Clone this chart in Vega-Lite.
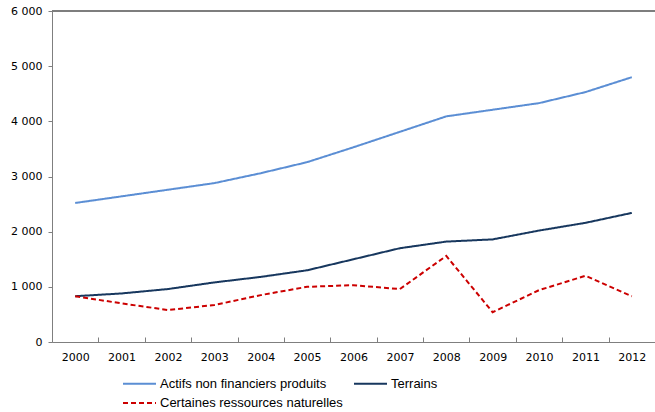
{
  "$schema": "https://vega.github.io/schema/vega-lite/v6.json",
  "autosize": "none",
  "width": 603,
  "height": 331,
  "padding": {"left": 52, "top": 11, "right": 0, "bottom": 70},
  "background": "white",
  "config": {
    "view": {"stroke": null},
    "font": "DejaVu Sans",
    "axis": {"labelFont": "DejaVu Sans", "labelFontSize": 11, "labelColor": "#000", "domainColor": "#7f7f7f", "tickColor": "#7f7f7f", "grid": false, "title": null}
  },
  "data": {
    "values": [
      {"year": "2000", "series": "Actifs non financiers produits", "value": 2520},
      {"year": "2001", "series": "Actifs non financiers produits", "value": 2640},
      {"year": "2002", "series": "Actifs non financiers produits", "value": 2760},
      {"year": "2003", "series": "Actifs non financiers produits", "value": 2880},
      {"year": "2004", "series": "Actifs non financiers produits", "value": 3060},
      {"year": "2005", "series": "Actifs non financiers produits", "value": 3260},
      {"year": "2006", "series": "Actifs non financiers produits", "value": 3530},
      {"year": "2007", "series": "Actifs non financiers produits", "value": 3810},
      {"year": "2008", "series": "Actifs non financiers produits", "value": 4090},
      {"year": "2009", "series": "Actifs non financiers produits", "value": 4210},
      {"year": "2010", "series": "Actifs non financiers produits", "value": 4330},
      {"year": "2011", "series": "Actifs non financiers produits", "value": 4530},
      {"year": "2012", "series": "Actifs non financiers produits", "value": 4800},
      {"year": "2000", "series": "Terrains", "value": 830},
      {"year": "2001", "series": "Terrains", "value": 880},
      {"year": "2002", "series": "Terrains", "value": 960},
      {"year": "2003", "series": "Terrains", "value": 1080},
      {"year": "2004", "series": "Terrains", "value": 1180},
      {"year": "2005", "series": "Terrains", "value": 1300},
      {"year": "2006", "series": "Terrains", "value": 1500},
      {"year": "2007", "series": "Terrains", "value": 1700},
      {"year": "2008", "series": "Terrains", "value": 1820},
      {"year": "2009", "series": "Terrains", "value": 1860},
      {"year": "2010", "series": "Terrains", "value": 2020},
      {"year": "2011", "series": "Terrains", "value": 2160},
      {"year": "2012", "series": "Terrains", "value": 2340},
      {"year": "2000", "series": "Certaines ressources naturelles", "value": 830},
      {"year": "2001", "series": "Certaines ressources naturelles", "value": 700},
      {"year": "2002", "series": "Certaines ressources naturelles", "value": 580},
      {"year": "2003", "series": "Certaines ressources naturelles", "value": 670},
      {"year": "2004", "series": "Certaines ressources naturelles", "value": 850},
      {"year": "2005", "series": "Certaines ressources naturelles", "value": 1000},
      {"year": "2006", "series": "Certaines ressources naturelles", "value": 1030},
      {"year": "2007", "series": "Certaines ressources naturelles", "value": 960},
      {"year": "2008", "series": "Certaines ressources naturelles", "value": 1560},
      {"year": "2009", "series": "Certaines ressources naturelles", "value": 540},
      {"year": "2010", "series": "Certaines ressources naturelles", "value": 940},
      {"year": "2011", "series": "Certaines ressources naturelles", "value": 1200},
      {"year": "2012", "series": "Certaines ressources naturelles", "value": 830}
    ]
  },
  "layer": [
    {
      "mark": {"type": "rule", "color": "#7f7f7f", "strokeWidth": 1},
      "encoding": {"y": {"datum": 6000, "type": "quantitative"}}
    },
    {
      "mark": {"type": "line", "strokeWidth": 2},
      "encoding": {
        "x": {
          "field": "year", "type": "ordinal", "bandPosition": 0.5,
          "scale": {"type": "band", "paddingInner": 0, "paddingOuter": 0},
          "axis": {"labelAngle": 0, "tickBand": "extent", "tickSize": -5, "labelPadding": 14}
        },
        "y": {
          "field": "value", "type": "quantitative",
          "scale": {"domain": [0, 6000], "nice": false, "zero": true},
          "axis": {"values": [0, 1000, 2000, 3000, 4000, 5000, 6000], "tickSize": 4, "labelPadding": 6, "labelExpr": "replace(format(datum.value, ','), ',', ' ')"}
        },
        "color": {
          "field": "series", "type": "nominal",
          "scale": {"domain": ["Actifs non financiers produits", "Terrains", "Certaines ressources naturelles"], "range": ["#5B8ED4", "#17375E", "#CC0000"]},
          "legend": {
            "title": null, "orient": "none", "legendX": 70, "legendY": 366, "columns": 2, "direction": "horizontal",
            "columnPadding": 7, "rowPadding": 5.5, "labelLimit": 400,
            "symbolType": "M-1,0H5", "symbolSize": 121, "symbolStrokeWidth": 2,
            "labelFont": "Liberation Sans", "labelFontSize": 13, "labelColor": "#000", "labelOffset": 25
          }
        },
        "strokeDash": {
          "field": "series", "type": "nominal",
          "scale": {"domain": ["Actifs non financiers produits", "Terrains", "Certaines ressources naturelles"], "range": [[1, 0], [1, 0], [5, 3]]},
          "legend": {
            "title": null, "orient": "none", "legendX": 70, "legendY": 366, "columns": 2, "direction": "horizontal",
            "columnPadding": 7, "rowPadding": 5.5, "labelLimit": 400,
            "symbolType": "M-1,0H5", "symbolSize": 121, "symbolStrokeWidth": 2,
            "labelFont": "Liberation Sans", "labelFontSize": 13, "labelColor": "#000", "labelOffset": 25
          }
        }
      }
    }
  ]
}
